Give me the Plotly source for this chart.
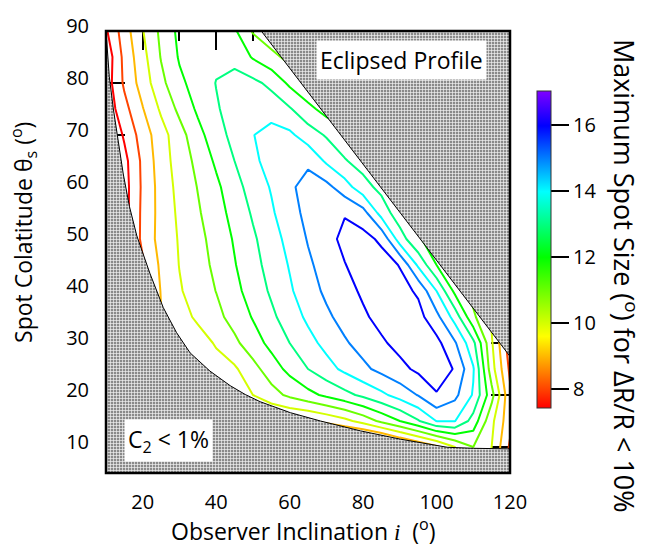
import plotly.graph_objects as go

# ---- grid of the computed map -------------------------------------------
inclination = [10, 15, 20, 25, 30, 35, 40, 45, 50, 55, 60, 65, 70, 75, 80, 85,
               90, 95, 100, 105, 110, 115, 120]
colatitude = [5, 10, 15, 20, 25, 30, 35, 40, 45, 50, 55, 60, 65, 70, 75, 80, 85, 90]

# maximum spot size (deg) for dR/R < 10 %, one row per colatitude (5 -> 90)
spot_size = [
    [6.0, 6.2, 6.4, 6.6, 6.8, 7.0, 7.2, 7.4, 7.5, 7.4, 7.0, 6.5, 6.3, 6.2, 6.0, 6.3, 7.0, 7.6, 8.5, 9.8, 10.8, 9.8, 7.7],
    [6.0, 6.2, 6.4, 6.6, 6.8, 7.0, 7.2, 7.4, 7.5, 7.4, 7.0, 6.5, 6.3, 6.2, 6.0, 6.4, 7.3, 8.0, 8.8, 10.0, 11.0, 10.0, 7.85],
    [6.5, 6.7, 6.9, 7.1, 7.3, 7.6, 7.9, 8.2, 8.5, 8.7, 8.8, 8.9, 9.25, 9.71, 10.39, 11.23, 12.0, 12.91, 14.03, 14.03, 12.6, 10.25, 8.3],
    [7.0, 7.3, 7.6, 7.9, 8.2, 8.5, 8.8, 9.4, 10.0, 10.63, 11.2, 11.7, 12.2, 12.7, 13.22, 13.78, 14.4, 15.05, 15.95, 15.25, 13.9, 11.36, 8.2],
    [7.0, 7.3, 7.6, 7.9, 8.9, 9.3, 9.6, 9.85, 10.67, 11.5, 12.29, 13.0, 13.63, 14.22, 14.78, 15.28, 15.73, 16.2, 16.35, 15.95, 14.1, 10.42, 7.8],
    [7.0, 7.3, 7.6, 8.6, 9.2, 9.55, 10.1, 10.79, 11.54, 12.29, 13.0, 13.67, 14.29, 14.88, 15.38, 15.86, 16.3, 16.5, 16.3, 15.12, 13.26, 10.13, 7.4],
    [6.5, 7.0, 7.6, 8.95, 9.6, 10.18, 10.73, 11.36, 12.07, 12.79, 13.5, 14.19, 14.81, 15.35, 15.85, 16.3, 16.5, 16.35, 15.3, 13.6, 11.2, 9.8, 8.8],
    [6.0, 6.5, 7.0, 9.08, 9.9, 10.48, 11.02, 11.72, 12.43, 13.14, 13.86, 14.57, 15.19, 15.67, 16.15, 16.45, 16.35, 15.85, 14.0, 11.75, 10.6, 9.9, 9.2],
    [5.5, 6.0, 7.8, 9.21, 10.03, 10.6, 11.22, 11.94, 12.66, 13.37, 14.07, 14.82, 15.42, 15.97, 16.35, 16.45, 15.95, 13.83, 12.0, 11.3, 10.8, 10.3, 9.8],
    [5.0, 6.0, 8.36, 9.33, 10.09, 10.7, 11.38, 12.1, 12.84, 13.57, 14.32, 15.07, 15.73, 16.2, 16.35, 15.8, 13.5, 12.1, 11.6, 11.2, 10.8, 10.4, 10.0],
    [5.5, 6.6, 8.23, 9.36, 10.19, 10.88, 11.59, 12.34, 13.12, 13.85, 14.65, 15.25, 15.7, 15.95, 15.4, 13.6, 12.4, 12.1, 11.8, 11.5, 11.2, 10.9, 10.6],
    [5.5, 6.6, 8.18, 9.4, 10.31, 11.04, 11.78, 12.64, 13.41, 14.08, 14.81, 15.4, 15.3, 14.44, 13.37, 12.7, 12.4, 12.1, 11.8, 11.5, 11.2, 10.9, 10.6],
    [5.8, 6.7, 8.22, 9.53, 10.44, 11.27, 12.17, 13.0, 13.77, 14.4, 14.85, 14.8, 13.85, 13.08, 12.6, 12.3, 12.0, 11.7, 11.4, 11.1, 10.8, 10.5, 10.2],
    [5.8, 7.14, 8.47, 9.6, 10.6, 11.67, 12.58, 13.32, 13.97, 14.35, 14.2, 13.5, 12.9, 12.4, 12.1, 11.8, 11.5, 11.2, 10.9, 10.6, 10.3, 10.0, 9.7],
    [6.3, 7.67, 8.95, 10.16, 11.24, 12.17, 12.9, 13.4, 13.7, 13.6, 13.1, 12.3, 11.6, 11.3, 11.0, 10.7, 10.5, 10.3, 10.1, 9.9, 9.7, 9.5, 9.3],
    [6.45, 8.17, 9.44, 10.73, 11.78, 12.42, 13.03, 13.3, 13.25, 12.75, 11.8, 11.1, 10.8, 10.5, 10.3, 10.1, 9.9, 9.7, 9.5, 9.3, 9.1, 8.9, 8.7],
    [6.3, 8.29, 9.67, 11.06, 12.1, 12.5, 12.8, 12.75, 11.9, 11.3, 10.7, 10.4, 10.1, 9.9, 9.7, 9.5, 9.3, 9.1, 8.9, 8.7, 8.5, 8.3, 8.1],
    [6.87, 8.53, 9.95, 11.23, 12.25, 12.6, 12.7, 12.15, 10.9, 10.3, 10.0, 9.8, 9.6, 9.4, 9.2, 9.0, 8.8, 8.6, 8.4, 8.2, 8.0, 7.8, 7.6],
]

# contour levels and colour range
level_start, level_end, level_step = 7, 16, 1
cb_min, cb_max = 7.42, 17.06
cb_ticks = [8, 10, 12, 14, 16]

# excluded parameter space (hatched)
eclipse_incl = [51.2, 121.0, 121.0]
eclipse_colat = [91.0, 26.5, 91.0]
c2_incl = [9.9, 10.0, 10.9, 12.0, 13.4, 14.7, 16.4, 18.4, 22.0, 25.6, 29.2, 32.9,
           38.3, 43.8, 47.9, 52.0, 60.2, 68.4, 79.3, 90.2, 102.9, 110.0, 119.3,
           121.0, 121.0, 9.0, 9.0]
c2_colat = [91.0, 90.0, 81.2, 75.0, 68.7, 62.5, 56.2, 50.6, 43.3, 36.8, 32.0, 28.1,
            24.6, 21.8, 20.1, 18.7, 16.6, 15.0, 13.1, 11.5, 9.95, 9.75, 9.65,
            9.6, 4.0, 4.0, 91.0]

x_ticks = [20, 40, 60, 80, 100, 120]
y_ticks = [10, 20, 30, 40, 50, 60, 70, 80, 90]

# ---- layout geometry (pixels) -------------------------------------------
W, H = 645, 547
ML, MR, MT, MB = 106, 135, 20, 74
PW, PH = W - ML - MR, H - MT - MB
FONT = "Open Sans"


def fx(px):
    return (px - ML) / PW


def fy(py):
    return (H - MB - py) / PH


# rainbow hue ramp: red -> yellow -> green -> cyan -> blue -> violet
hue_stops = [(cb_min, "#ff0000"), (9.6, "#ffff00"), (12.0, "#00ff00"),
             (14.0, "#00ffff"), (16.0, "#0000ff"), (cb_max, "#8000ff")]


def ramp(lo, hi):
    out = []
    for v, c in hue_stops:
        p = min(max((v - lo) / (hi - lo), 0.0), 1.0)
        if out and p <= out[-1][0]:
            if p == out[-1][0] and p == 1.0:
                continue
            p = out[-1][0]
        out.append([p, c])
    if out[0][0] > 0:
        out.insert(0, [0.0, out[0][1]])
    if out[-1][0] < 1:
        out.append([1.0, out[-1][1]])
    return out


# the contour trace spreads its colour scale over the contour levels
line_scale = ramp(level_start, level_end)
bar_scale = ramp(cb_min, cb_max)

fig = go.Figure()

fig.add_trace(go.Contour(
    x=inclination, y=colatitude, z=spot_size,
    contours=dict(start=level_start, end=level_end, size=level_step, coloring="lines"),
    colorscale=line_scale,
    line=dict(width=2, smoothing=0),
    showscale=False, hoverinfo="skip",
))

hatch = dict(shape="+", bgcolor="#8a8a8a", fgcolor="#f2f2f2", size=3, solidity=0.4,
             fillmode="replace")
for xs, ys in ((eclipse_incl, eclipse_colat), (c2_incl, c2_colat)):
    fig.add_trace(go.Scatter(
        x=xs, y=ys, mode="lines", fill="toself", fillpattern=hatch,
        line=dict(color="black", width=1), hoverinfo="skip", showlegend=False,
    ))

# colour bar
fig.add_trace(go.Scatter(
    x=[None, None], y=[None, None], mode="markers", showlegend=False, hoverinfo="skip",
    marker=dict(
        color=[cb_min, cb_max], colorscale=bar_scale, cmin=cb_min, cmax=cb_max,
        showscale=True,
        colorbar=dict(
            thickness=14, len=317, lenmode="pixels",
            x=fx(537), xanchor="left", xpad=0,
            y=fy(243.5), yanchor="middle", ypad=0,
            outlinewidth=1, outlinecolor="#333333",
            tickvals=cb_ticks, ticks="outside", ticklen=18, tickwidth=2,
            tickcolor="black", tickprefix="   ",
            tickfont=dict(family=FONT, size=20, color="black"),
        ),
    ),
))

axis_common = dict(
    ticks="inside", ticklen=19, tickwidth=1.5, tickcolor="black", mirror="allticks",
    showline=False, showgrid=False, zeroline=False, layer="below traces",
    tickfont=dict(family=FONT, size=20, color="black"),
)


def label(text, px, py, size, angle=0):
    return dict(text=text, x=fx(px), y=fy(py), xref="paper", yref="paper",
                xanchor="center", yanchor="middle", showarrow=False, textangle=angle,
                font=dict(family=FONT, size=size, color="black"))


boxed = dict(bgcolor="white", borderpad=3)

fig.update_layout(
    width=W, height=H,
    margin=dict(l=ML, r=MR, t=MT, b=MB),
    paper_bgcolor="white", plot_bgcolor="white",
    font=dict(family=FONT, color="black"),
    xaxis=dict(range=[10, 120], tickvals=x_ticks, ticklabelstandoff=15,
               minor=dict(dtick=10, tick0=0, ticks="inside", ticklen=10,
                          tickwidth=1.5, tickcolor="black"),
               **axis_common),
    yaxis=dict(range=[5, 90], tickvals=y_ticks, ticklabelstandoff=16,
               ticklabelshift=-5, **axis_common),
    showlegend=False,
    shapes=[dict(type="rect", xref="paper", yref="paper", x0=0, y0=0, x1=1, y1=1,
                 line=dict(color="black", width=2.5), layer="above")],
    annotations=[
        dict(label("Eclipsed Profile", 401.5, 50, 23), **boxed),
        dict(label("C<sub>2</sub> &lt; 1%", 168, 440, 23), **boxed),
        label("Observer Inclination <span style='font-family:Liberation Serif'><i>i</i></span>  (<sup>o</sup>)",
              303, 531, 23),
        label("Spot Colatitude θ<sub>s</sub> (<sup>o</sup>)", 23, 227, 23, -90),
        label("Maximum Spot Size (<sup>o</sup>) for ΔR/R &lt; 10%", 625, 271, 27, 90),
    ],
)

fig.write_html("out.html")
